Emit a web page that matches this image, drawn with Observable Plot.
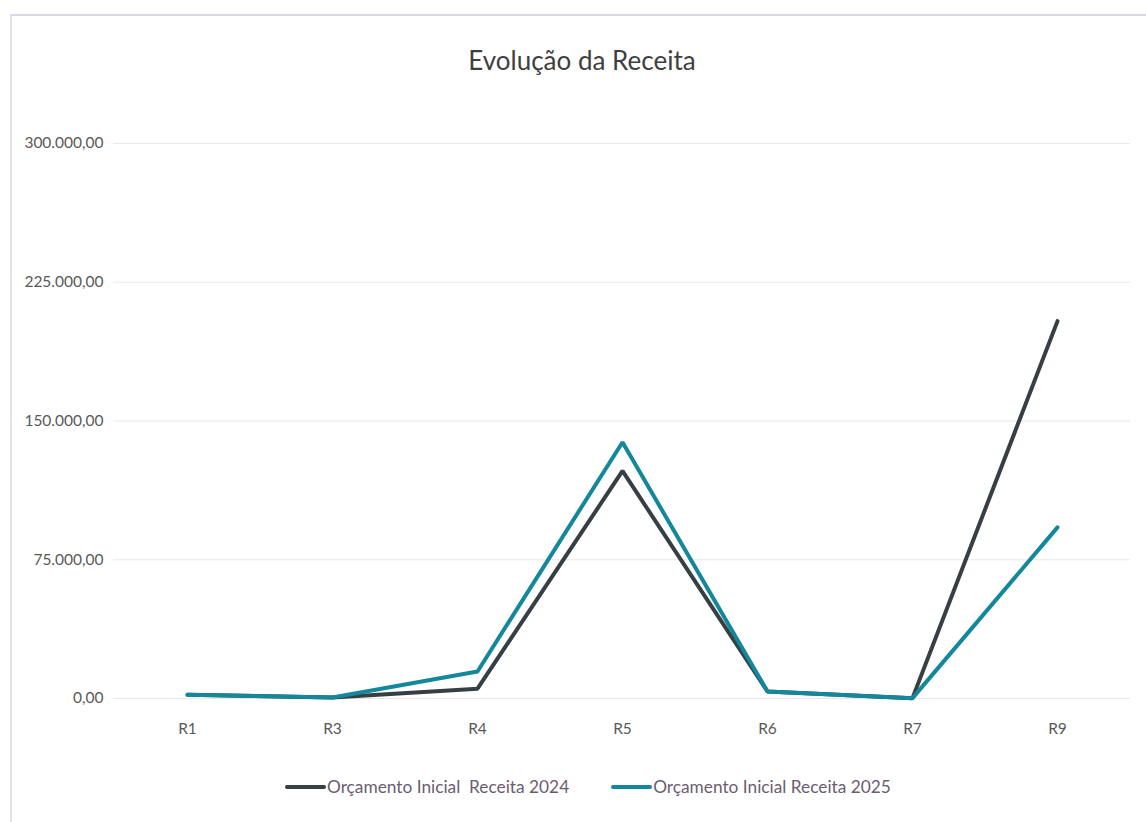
<!DOCTYPE html>
<html><head><meta charset="utf-8">
<script src="https://cdn.jsdelivr.net/npm/d3@7"></script>
<script src="https://cdn.jsdelivr.net/npm/@observablehq/plot@0.6"></script>
<style>
body{margin:0;background:#fff;font-family:Lato,"Open Sans",sans-serif;}
#wrap{position:relative;width:1146px;height:822px;overflow:hidden;}
#frame{position:absolute;left:10px;top:14px;right:-4px;bottom:-4px;border-top:2px solid #d9d6e6;border-left:2px solid #e4e1ee;}
#title{position:absolute;left:0;width:1164px;top:44px;text-align:center;font-size:26px;color:#3f3f3f;}
#chart{position:absolute;left:0;top:0;}
#legend{position:absolute;top:776px;left:285px;font-size:17.3px;color:#6c5c72;display:flex;gap:42px;}
.item{display:flex;align-items:center;}
.sw{display:inline-block;width:41px;height:4px;border-radius:2px;margin-right:1px;}
</style></head>
<body><div id="wrap"><div id="frame"></div><div id="title">Evolução da Receita</div><div id="chart"></div>
<div id="legend"></div></div>
<script>
const categories = ["R1","R3","R4","R5","R6","R7","R9"];
const series2024 = [2000, 500, 5300, 123000, 3800, 200, 204000];
const series2025 = [2000, 500, 14600, 138500, 3800, 200, 92500];
const seriesNames = ["Orçamento Inicial  Receita 2024", "Orçamento Inicial Receita 2025"];
const colors = ["#353f44", "#13879b"];
const yTicks = [0, 75000, 150000, 225000, 300000];

const data = [];
categories.forEach((c,i)=>{
  data.push({cat:c, value:series2024[i], s:seriesNames[0]});
  data.push({cat:c, value:series2025[i], s:seriesNames[1]});
});
const fmt2 = v => { const s = d3.format(",.2f")(v); return s.replace(/,/g,"#").replace(/\./g,",").replace(/#/g,"."); };

const chart = Plot.plot({
  width: 1146, height: 750,
  marginTop: 143, marginBottom: 52, marginLeft: 113, marginRight: 16,
  style: {fontFamily: "Lato, 'Open Sans', sans-serif", fontSize: "15.5px", color: "#595959", background: "transparent"},
  x: {domain: categories, type: "point", padding: 0.5, label: null, tickSize: 0, tickPadding: 24},
  y: {domain: [0, 300000], ticks: yTicks, tickFormat: fmt2, label: null, tickSize: 0, tickPadding: 10},
  color: {domain: seriesNames, range: colors},
  marks: [
    Plot.ruleY(yTicks, {stroke: "#e8e8e8", strokeWidth: 1.2}),
    Plot.line(data, {x: "cat", y: "value", z: "s", stroke: "s", strokeWidth: 4, strokeLinejoin: "miter", strokeLinecap: "round"})
  ]
});
document.getElementById("chart").appendChild(chart);

const lg = document.getElementById("legend");
seriesNames.forEach((n,i)=>{
  const it = document.createElement("div"); it.className="item";
  it.innerHTML = `<span class="sw" style="background:${colors[i]}"></span><span style="white-space:pre">${n}</span>`;
  lg.appendChild(it);
});
</script></body></html>
